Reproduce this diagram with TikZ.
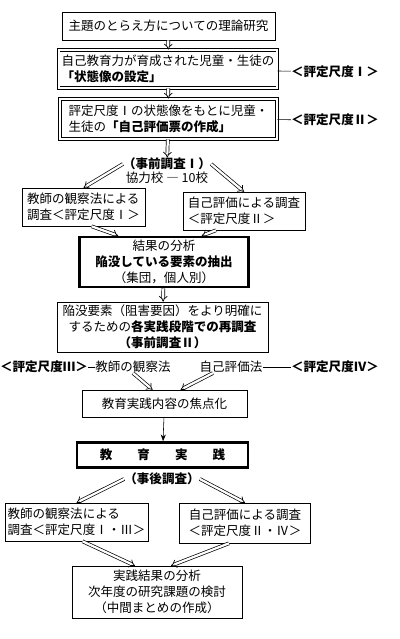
\documentclass[tikz,border=0pt]{standalone}
\usepackage{fontspec}
\setmainfont{Noto Sans CJK JP}
\usetikzlibrary{arrows.meta}

\begin{document}
\begin{tikzpicture}[x=0.025cm, y=-0.025cm, font=\fontsize{8.9}{11.4}\selectfont,
	box/.style={draw, rectangle, inner sep=2pt, align=center},
	dbox/.style={box, line width=0.6pt, double, double distance=1pt},
	heavy/.style={box, line width=1.8pt},
	imp/.style={double, double distance=1.6pt, line width=0.5pt, -{Implies}},
	tag/.style={inner sep=0pt}]
	\useasboundingbox (0,0) rectangle (400,639);
	\node (theory) at (168.5, 26)	[box, minimum width=5.325cm, minimum height=0.7cm]	{主題のとらえ方についての理論研究};
	\node (state) at (168, 69)	[dbox, minimum width=5.4cm, minimum height=0.95cm, align=left]	{自己教育力が育成された児童・生徒の\\{\bfseries「状態像の設定」}};
	\node (sheet) at (168.5, 119)	[dbox, minimum width=5.425cm, minimum height=1.0cm, align=left]	{評定尺度Ⅰの状態像をもとに児童・\\生徒の{\bfseries「自己評価票の作成」}};
	\node (scale1) at (335, 72)	[tag]	{\bfseries ＜評定尺度Ⅰ＞};
	\node (scale2) at (335, 120)	[tag]	{\bfseries ＜評定尺度Ⅱ＞};
	\node (pre1) at (167, 164)	[tag]	{\bfseries （事前調査Ⅰ）};
	\node (coop) at (167, 178)	[tag]	{協力校 ― 10校};
	\node (obs1) at (83.5, 207)	[box, minimum width=3.075cm, minimum height=0.95cm, align=left]	{教師の観察法による\\調査＜評定尺度Ⅰ＞};
	\node (self1) at (244, 211)	[box, minimum width=3.05cm, minimum height=0.95cm, align=left]	{自己評価による調査\\＜評定尺度Ⅱ＞};
	\node (result) at (164, 262)	[heavy, minimum width=4.225cm, minimum height=1.25cm]	{結果の分析\\{\bfseries 陥没している要素の抽出}\\（集団，個人別）};
	\node (pre2) at (162.5, 327)	[box, minimum width=5.275cm, minimum height=1.25cm]	{陥没要素（阻害要因）をより明確に\\するための{\bfseries 各実践段階での再調査}\\{\bfseries（事前調査Ⅱ）}};
	\node (scale3) at (44, 367)	[tag]	{\bfseries ＜評定尺度Ⅲ＞};
	\node (obsm) at (133, 367)	[tag]	{教師の観察法};
	\node (selfm) at (231, 367)	[tag]	{自己評価法};
	\node (scale4) at (335, 367)	[tag]	{\bfseries ＜評定尺度Ⅳ＞};
	\node (focus) at (164.5, 403.5)	[box, minimum width=4.125cm, minimum height=0.675cm]	{教育実践内容の焦点化};
	\node (practice) at (162.5, 455)	[heavy, minimum width=4.275cm, minimum height=0.625cm]	{\bfseries 教\hspace{2em}育\hspace{2em}実\hspace{2em}践};
	\node (post) at (162, 479)	[tag]	{\bfseries （事後調査）};
	\node (obs2) at (76.5, 522)	[box, minimum width=3.075cm, minimum height=0.95cm, align=left]	{教師の観察法による\\調査＜評定尺度Ⅰ・Ⅲ＞};
	\node (self2) at (245, 523)	[box, minimum width=3.275cm, minimum height=1.0cm]	{自己評価による調査\\＜評定尺度Ⅱ・Ⅳ＞};
	\node (final) at (157, 592)	[box, minimum width=4.25cm, minimum height=1.3cm]	{実践結果の分析\\次年度の研究課題の検討\\（中間まとめの作成）};
	\draw[imp] (theory) -- (state);
	\draw[imp] (state) -- (sheet);
	\draw[imp] (sheet) -- (pre1);
	\draw (state) -- (scale1);
	\draw (sheet) -- (scale2);
	\draw[imp] (pre1.west) -- (obs1.north);
	\draw[imp] (pre1.east) -- (self1.north);
	\draw[imp] ([xshift=0.2cm]obs1.south) -- ([xshift=1cm]result.north west);
	\draw[imp] ([xshift=-0.7cm]self1.south) -- ([xshift=-1.2cm]result.north east);
	\draw[imp] (result) -- (pre2);
	\draw (scale3) -- (obsm);
	\draw (selfm) -- (scale4);
	\draw[imp] (obsm.south) -- ([xshift=-0.3cm]focus.north);
	\draw[imp] ([xshift=-0.45cm]selfm.south) -- ([xshift=0.4cm]focus.north);
	\draw[-{Stealth}] (focus) -- (practice);
	\draw[imp] (post.west) -- (obs2.north);
	\draw[imp] (post.east) -- (self2.north);
	\draw[imp] ([xshift=0.15cm]obs2.south) -- ([xshift=-0.55cm]final.north);
	\draw[imp] ([xshift=-0.4cm]self2.south) -- ([xshift=0.35cm]final.north);
\end{tikzpicture}
\end{document}
